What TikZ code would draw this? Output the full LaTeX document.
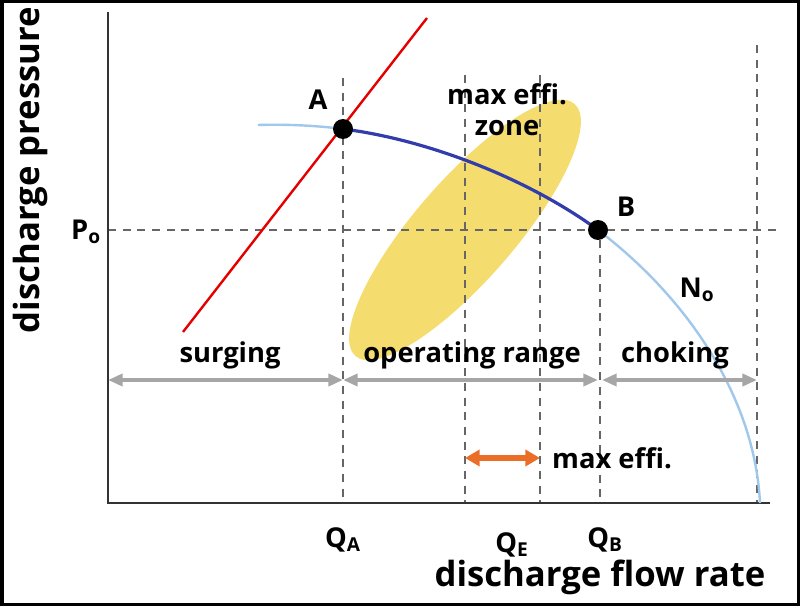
\documentclass[tikz,border=0pt]{standalone}
\usepackage{fontspec}
\setmainfont{Open Sans}
\usetikzlibrary{arrows.meta}
\definecolor{lblue}{RGB}{160,200,235}
\definecolor{dblue}{RGB}{50,60,170}
\definecolor{zone}{RGB}{245,220,110}
\definecolor{orng}{RGB}{235,110,40}
\tikzset{
  lbl/.style={font=\bfseries\fontsize{20.5}{23}\selectfont},
  guide/.style={dashed,gray!80!black,line width=1.1pt,dash pattern=on 6pt off 5pt},
  span/.style={{Triangle[width=9pt,length=11pt]}-{Triangle[width=9pt,length=11pt]},gray!70,line width=2.8pt},
}
\begin{document}
\begin{tikzpicture}[x=0.75pt,y=-0.75pt]
    \useasboundingbox (0,0) rectangle (800,606);
    \draw[line width=3pt] (1.5,1.5) rectangle (798.5,604.5);
    % yellow zone
    \fill[zone,rotate around={49:(465,230)}] (465,230) ellipse (167 and 50);
    % guides
    \draw[guide] (108,230) -- (780,230);
    \draw[guide] (343,78) -- (343,503);
    \draw[guide] (465,75) -- (465,503);
    \draw[guide] (540,75) -- (540,503);
    \draw[guide] (600,240) -- (600,503);
    \draw[guide] (757,45) -- (757,503);
    % axes
    \draw[line width=1.5pt,black!80] (108,12) -- (108,503) -- (770,503);
    % surge line
    \draw[red!90!black,line width=1.8pt] (183,332) -- (427,18);
    % speed curve
    \coordinate (A) at (343,129);
    \coordinate (B) at (598,230);
    \coordinate (S) at (258,125);
    \coordinate (E) at (760,503);
    \draw[lblue,line width=1.8pt] (S) .. controls (290,124) and (320,126) .. (A);
    \draw[dblue,line width=2.4pt] (A) .. controls (430,140) and (530,180) .. (B);
    \draw[lblue,line width=1.8pt] (B) .. controls (690,300) and (755,400) .. (E);
    \fill (A) circle (10);
    \fill (B) circle (10);
    % ranges
    \coordinate (r0) at (108,380);
    \coordinate (r1) at (343,380);
    \coordinate (r2) at (598,380);
    \coordinate (r3) at (602,380);
    \coordinate (r4) at (757,380);
    \draw[span] (r0) -- (r1);
    \draw[span] (r1) -- (r2);
    \draw[span] (r3) -- (r4);
    \coordinate (e0) at (465,458);
    \coordinate (e1) at (540,458);
    \draw[{Triangle[width=12pt,length=11pt]}-{Triangle[width=12pt,length=11pt]},orng,line width=4pt] (e0) -- (e1);
    % labels
    \node[lbl] (lA) at (318,100) {A};
    \node[lbl] (lB) at (626,207) {B};
    \node[lbl] (lP) at (86,232) {P\textsubscript{o}};
    \node[lbl] (lN) at (697,290) {N\textsubscript{o}};
    \node[lbl,align=center] (lz) at (507,110) {max effi.\\zone};
    \node[lbl] (ls) at (230,355) {surging};
    \node[lbl] (lo) at (472,355) {operating range};
    \node[lbl] (lc) at (675,355) {choking};
    \node[lbl] (lm) at (612,458) {max effi.};
    \node[lbl] (qa) at (343,540) {Q\textsubscript{A}};
    \node[lbl] (qe) at (512,545) {Q\textsubscript{E}};
    \node[lbl] (qb) at (605,540) {Q\textsubscript{B}};
    \node[lbl,font=\bfseries\fontsize{26}{28}\selectfont] (xl) at (600,577) {discharge flow rate};
    \node[lbl,font=\bfseries\fontsize{26}{28}\selectfont,rotate=90] (yl) at (30,170) {discharge pressure};
\end{tikzpicture}
\end{document}
